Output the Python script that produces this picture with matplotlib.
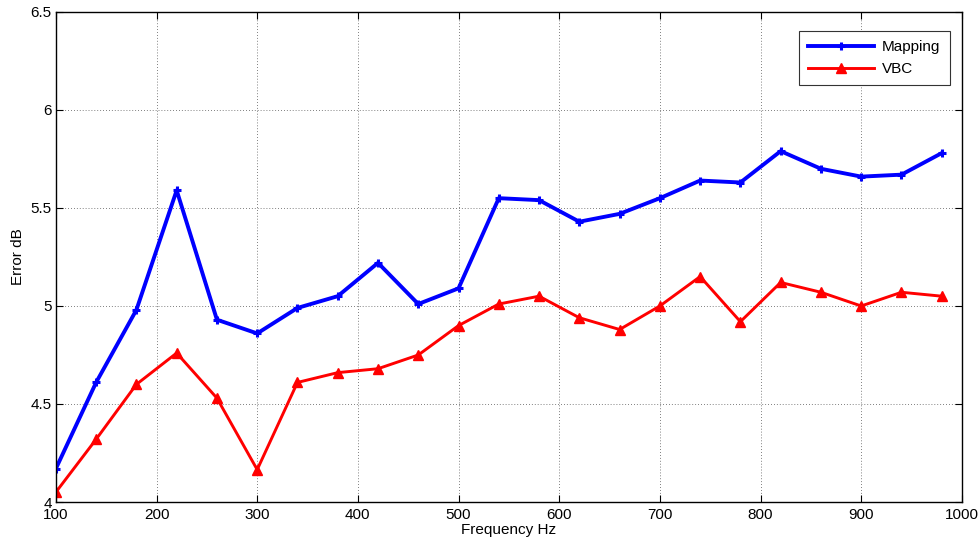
import matplotlib
matplotlib.use("Agg")
import matplotlib.pyplot as plt

plt.rcParams['font.family'] = ['Liberation Sans', 'DejaVu Sans']

freq = [100, 140, 180, 220, 260, 300, 340, 380, 420, 460, 500, 540, 580,
        620, 660, 700, 740, 780, 820, 860, 900, 940, 980]
mapping = [4.17, 4.61, 4.98, 5.59, 4.93, 4.86, 4.99, 5.05, 5.22, 5.01, 5.09,
           5.55, 5.54, 5.43, 5.47, 5.55, 5.64, 5.63, 5.79, 5.70, 5.66, 5.67, 5.78]
vbc = [4.05, 4.32, 4.60, 4.76, 4.53, 4.165, 4.61, 4.66, 4.68, 4.75, 4.90,
       5.01, 5.05, 4.94, 4.88, 5.00, 5.15, 4.92, 5.12, 5.07, 5.00, 5.07, 5.05]
xticks = [100, 200, 300, 400, 500, 600, 700, 800, 900, 1000]
yticks = [4, 4.5, 5, 5.5, 6, 6.5]
yticklabels = ['4', '4.5', '5', '5.5', '6', '6.5']

fig = plt.figure(figsize=(9.8, 5.44), dpi=100)
ax = fig.add_axes([0.057, 0.0772, 0.9245, 0.9008])

ax.plot(freq, mapping, color='#0000ff', lw=2.8, marker='+', ms=6, mew=2.2,
        label='Mapping')
ax.plot(freq, vbc, color='#ff0000', lw=2.1, marker='^', ms=6.5,
        label='VBC')

ax.set_xlim(100, 1000)
ax.set_ylim(4, 6.5)
ax.set_xticks(xticks)
ax.set_yticks(yticks)
ax.set_yticklabels(yticklabels)
ax.tick_params(direction='in', top=True, right=True, labelsize=11,
               length=5, width=0.8)
ax.tick_params(axis='x', pad=4)
ax.tick_params(axis='y', pad=3)
ax.grid(True, color='#555555', linestyle=(0, (1, 2.5)), linewidth=0.6)
for s in ax.spines.values():
    s.set_linewidth(1.0)

ax.set_xlabel('Frequency Hz', fontsize=11, labelpad=1)
ax.set_ylabel('Error dB', fontsize=11, labelpad=4)

leg = ax.legend(loc='upper right', bbox_to_anchor=(0.9865, 0.961), fontsize=11,
                fancybox=False, edgecolor='#333333', framealpha=1,
                handlelength=4.3, handletextpad=0.55, borderpad=0.6,
                labelspacing=0.5, borderaxespad=0)
leg.get_frame().set_linewidth(0.8)

fig.savefig('out.png', dpi=100)
